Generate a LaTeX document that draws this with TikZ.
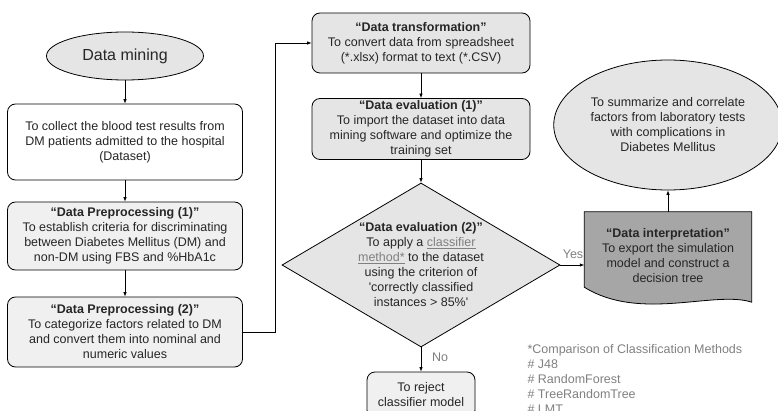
\documentclass[tikz,border=0pt]{standalone}
\usepackage{fontspec}
\setmainfont{Liberation Sans}
\usetikzlibrary{shapes.geometric, arrows.meta, backgrounds}

\definecolor{lightfill}{HTML}{F0F0F0}
\definecolor{midfill}{HTML}{E5E5E5}
\definecolor{interpfill}{HTML}{A6A6A6}
\definecolor{notegray}{HTML}{808080}

\begin{document}
\begin{tikzpicture}[x=1pt, y=-1pt,
    every node/.style={font=\fontsize{12.5}{15}\selectfont, text=black!85, align=center},
    box/.style={draw, rounded corners=8pt, line width=0.8pt, minimum width=235pt, inner sep=2pt},
    arr/.style={-{Latex[length=4.5pt,width=3.5pt]}, line width=0.7pt}]
    \clip (0,0) rectangle (778,411);

    % left column
    \node[ellipse, draw, line width=0.8pt, fill=midfill, minimum width=157pt, minimum height=48pt,
        font=\fontsize{16}{19}\selectfont] (mining) at (125,56) {Data mining};
    \node[box, fill=white, minimum height=76pt] (collect) at (125,142)
        {To collect the blood test results from\\DM patients admitted to the hospital\\(Dataset)};
    \node[box, fill=lightfill, minimum height=68pt] (prep1) at (125,236)
        {\textbf{“Data Preprocessing (1)”}\\To establish criteria for discriminating\\between Diabetes Mellitus (DM) and\\non-DM using FBS and \%HbA1c};
    \node[box, fill=lightfill, minimum height=70pt] (prep2) at (125,332)
        {\textbf{“Data Preprocessing (2)”}\\To categorize factors related to DM\\and convert them into nominal and\\numeric values};

    % middle column
    \node[box, fill=midfill, minimum width=218pt, minimum height=60pt] (trans) at (421,43)
        {\textbf{“Data transformation”}\\To convert data from spreadsheet\\(*.xlsx) format to text (*.CSV)};
    \node[box, fill=midfill, minimum width=218pt, minimum height=61pt] (eval1) at (421,129)
        {\textbf{“Data evaluation (1)”}\\To import the dataset into data\\mining software and optimize the\\training set};
    \node[diamond, draw, line width=0.8pt, fill=midfill, aspect=1.7, inner sep=0pt,
        minimum width=278pt, minimum height=164pt] (eval2) at (421,265)
        {\textbf{“Data evaluation (2)”}\\To apply a \textcolor{notegray}{\underline{classifier}}\\
         \textcolor{notegray}{\underline{method*}} to the dataset\\using the criterion of\\
         \textquotesingle correctly classified\\instances > 85\%\textquotesingle};
    \node[box, fill=lightfill, minimum width=108pt, minimum height=46pt] (reject) at (421,395)
        {To reject\\classifier model};

    % right column
    \node[ellipse, draw, line width=0.8pt, fill=midfill, minimum width=220pt, minimum height=130pt] (summ) at (668,125)
        {To summarize and correlate\\factors from laboratory tests\\with complications in\\Diabetes Mellitus};
    \node[minimum width=167pt, minimum height=88pt] (interp) at (668,256)
        {\textbf{“Data interpretation”}\\To export the simulation\\model and construct a\\decision tree};
    \begin{pgfonlayer}{background}
        \draw[line width=0.8pt, fill=interpfill] (interp.north west) -- (interp.north east)
            -- ([yshift=-2pt]interp.south east)
            .. controls (715,290) and (640,322) .. ([yshift=13pt]interp.south west) -- cycle;
    \end{pgfonlayer}

    \node[text=notegray] (yes) at (573,254) {Yes};
    \node[text=notegray] (no) at (440,357) {No};
    \node[anchor=north west, align=left, text=notegray] (methods) at (524,341)
        {*Comparison of Classification Methods\\\# J48\\\# RandomForest\\\# TreeRandomTree\\\# LMT};

    % connectors
    \draw[arr] (mining) -- (collect);
    \draw[arr] (collect) -- (prep1);
    \draw[arr] (prep1) -- (prep2);
    \draw[arr] (prep2.east) -- ++(32,0) |- (trans.west);
    \draw[arr] (trans) -- (eval1);
    \draw[arr] (eval1) -- (eval2);
    \draw[arr] (eval2.east) -- (eval2.east -| interp.west);
    \draw[arr] (eval2) -- (reject);
    \draw[arr] (interp) -- (summ);
\end{tikzpicture}
\end{document}
